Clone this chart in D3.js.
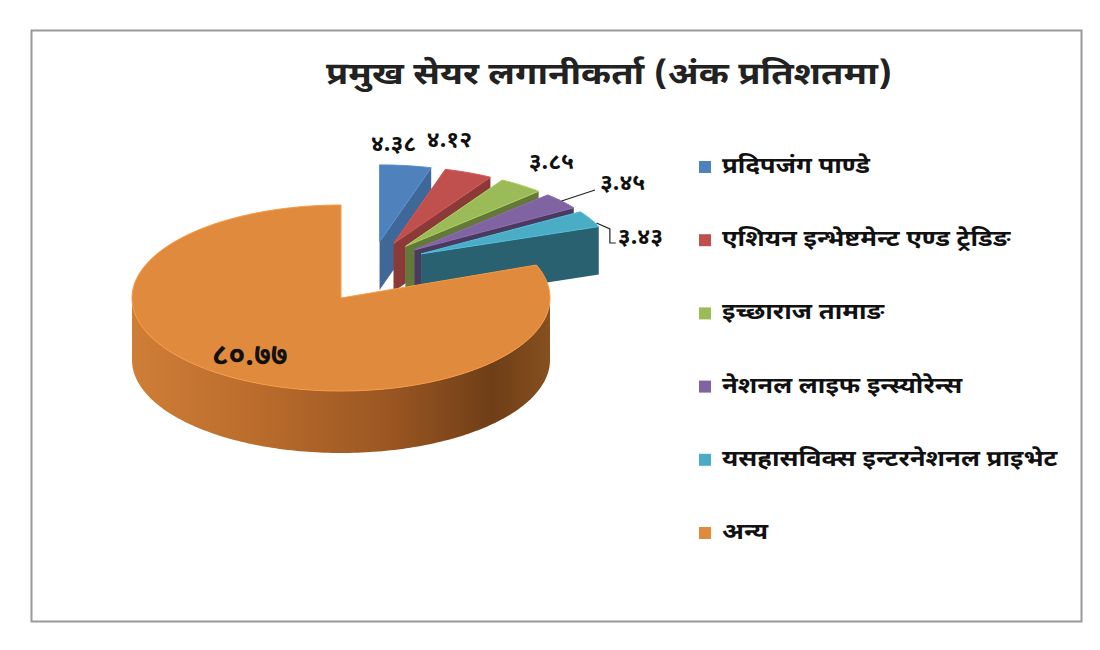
<!DOCTYPE html>
<html>
<head>
<meta charset="utf-8">
<script src="https://cdn.jsdelivr.net/npm/d3@7"></script>
<style>
  body { margin: 0; background: #fff; }
  text { font-family: "Noto Sans Devanagari", "Noto Sans", sans-serif; }
</style>
</head>
<body>
<script>
// shareholders and their share (percent)
const holders = ["प्रदिपजंग पाण्डे", "एशियन इन्भेष्टमेन्ट एण्ड ट्रेडिङ", "इच्छाराज तामाङ",
                 "नेशनल लाइफ इन्स्योरेन्स", "यसहासविक्स इन्टरनेशनल प्राइभेट", "अन्य"];
const shares = [4.38, 4.12, 3.85, 3.45, 3.43, 80.77];
const shareLabels = ["४.३८", "४.१२", "३.८५", "३.४५", "३.४३", "८०.७७"];
const colours = ["#4F81BD", "#C0504D", "#9BBB59", "#8064A2", "#4BACC6", "#E08A3E"];
const title = "प्रमुख सेयर लगानीकर्ता (अंक प्रतिशतमा)";

const width = 1100, height = 650;

// two "views" of the 3d pie: the main slice, and the exploded small ones (seen further back)
const mainView = {cx: 341, cy: 298, rx: 209, ry: 93, h: 62, e: 0};
const explodedView = {cx: 372, cy: 264, rx: 190, ry: 77, h: 48, e: 0.29};
const lightAngle = Math.PI / 3;   // light comes from the back right

// label nudges from the rim point at the middle of each slice
const labelNudge = [[-12, -21], [-19, -32], [30, -22], [61, -17], [50, 19], [0, 0]];
const hasLeader = [false, false, false, true, true, false];

let svg = d3.select("body").append("svg")
            .attr("width", width)
            .attr("height", height);

let defs = svg.append("defs");
let grad = defs.append("linearGradient")
               .attr("id", "sideGrad")
               .attr("x1", "0%").attr("x2", "100%")
               .attr("y1", "0%").attr("y2", "0%");
[["0%", "#CF7E37"], ["30%", "#BA6C2C"], ["62%", "#9A5622"], ["86%", "#6F3E17"], ["100%", "#86501f"]]
  .forEach(s => grad.append("stop").attr("offset", s[0]).attr("stop-color", s[1]));

// frame
svg.append("rect")
   .attr("x", 31.5).attr("y", 30.5)
   .attr("width", 1050).attr("height", 591)
   .attr("fill", "none")
   .attr("stroke", "#999")
   .attr("stroke-width", 2);

// title (the original face is wider, so stretch a little)
svg.append("text")
   .attr("transform", "translate(609,76) scale(1.17,1)")
   .attr("text-anchor", "middle")
   .attr("dominant-baseline", "middle")
   .attr("font-size", 31)
   .attr("font-weight", "bold")
   .attr("fill", "#222")
   .text(title);

let pie = d3.pie().sort(null).value(d => d)(shares);
let mainIdx = d3.maxIndex(shares);
let viewOf = i => i === mainIdx ? mainView : explodedView;

// point on the slice at angle a, radius r (0..1), depth z
function pt(v, d, a, r, z) {
  let b = (d.startAngle + d.endAngle) / 2;
  return [v.cx + v.rx * (r * Math.sin(a) + v.e * Math.sin(b)),
          v.cy - v.ry * (r * Math.cos(a) + v.e * Math.cos(b)) + z];
}
function arcPts(v, d, a0, a1, z) {
  let n = Math.max(2, Math.ceil(Math.abs(a1 - a0) / 0.02));
  return d3.range(n + 1).map(k => pt(v, d, a0 + (a1 - a0) * k / n, 1, z));
}
let line = d3.line();
let radialFace = (v, d, a) =>
  line([pt(v, d, a, 0, 0), pt(v, d, a, 1, 0), pt(v, d, a, 1, v.h), pt(v, d, a, 0, v.h)]) + "Z";
// darker the more a face turns away from the light
let shade = (c, normal) => d3.color(c).darker(0.2 + 1.4 * (1 - Math.max(0, Math.cos(normal - lightAngle))));

let pieG = svg.append("g");

function drawSlice(d, i) {
  let v = viewOf(i);
  let c = colours[i];
  let g = pieG.append("g");

  if (i !== mainIdx) {
    g.append("path")
     .attr("d", radialFace(v, d, d.startAngle))
     .attr("fill", d3.color(c).darker(0.3));
    g.append("path")
     .attr("d", radialFace(v, d, d.endAngle))
     .attr("fill", shade(c, d.endAngle + Math.PI / 2));
  }

  // outer wall, front part only
  let a0 = Math.max(d.startAngle, Math.PI / 2), a1 = Math.min(d.endAngle, 3 * Math.PI / 2);
  if (a1 > a0) {
    let top = arcPts(v, d, a0, a1, 0), bot = arcPts(v, d, a1, a0, v.h);
    g.append("path")
     .attr("d", line(top.concat(bot)) + "Z")
     .attr("fill", i === mainIdx ? "url(#sideGrad)" : d3.color(c).darker(1.5));
  }

  // top face
  g.append("path")
   .attr("d", line([pt(v, d, 0, 0, 0)].concat(arcPts(v, d, d.startAngle, d.endAngle, 0))) + "Z")
   .attr("fill", c)
   .attr("stroke", d3.color(c).brighter(0.3))
   .attr("stroke-width", 1);
}

// small exploded slices first (behind), main slice last
pie.forEach((d, i) => { if (i !== mainIdx) drawSlice(d, i); });
drawSlice(pie[mainIdx], mainIdx);

// data labels
pie.forEach((d, i) => {
  let v = viewOf(i);
  let b = (d.startAngle + d.endAngle) / 2;
  let r = i === mainIdx ? 0.77 : 1;
  let p = pt(v, d, b, r, 0);
  let lx = p[0] + labelNudge[i][0], ly = p[1] + labelNudge[i][1];
  let t = svg.append("text")
             .attr("x", lx).attr("y", ly)
             .attr("text-anchor", "middle")
             .attr("dominant-baseline", "middle")
             .attr("font-size", i === mainIdx ? 30 : 23)
             .attr("font-weight", "bold")
             .attr("fill", "#111")
             .text(shareLabels[i]);
  if (hasLeader[i]) {
    let left = lx - t.node().getComputedTextLength() / 2;
    let pts = ly < p[1]
      ? [p, [left - 5, ly + 6]]
      : [[p[0] + 6, p[1] + 4], [left - 8, p[1] + 10], [left - 8, ly + 5], [left - 2, ly + 5]];
    svg.append("path")
       .attr("d", line(pts))
       .attr("fill", "none")
       .attr("stroke", "#222")
       .attr("stroke-width", 1.2);
  }
});

// legend
let legend = svg.append("g").attr("transform", "translate(699,0)");
let ly = d3.scalePoint().domain(d3.range(holders.length)).range([167, 533]);
holders.forEach((h, i) => {
  legend.append("rect")
        .attr("x", 0).attr("y", ly(i) - 6)
        .attr("width", 12).attr("height", 12)
        .attr("fill", colours[i]);
  legend.append("text")
        .attr("transform", `translate(23,${ly(i)}) scale(1.17,1)`)
        .attr("dominant-baseline", "middle")
        .attr("font-size", 22)
        .attr("font-weight", "bold")
        .attr("fill", "#111")
        .text(h);
});
</script>
</body>
</html>
